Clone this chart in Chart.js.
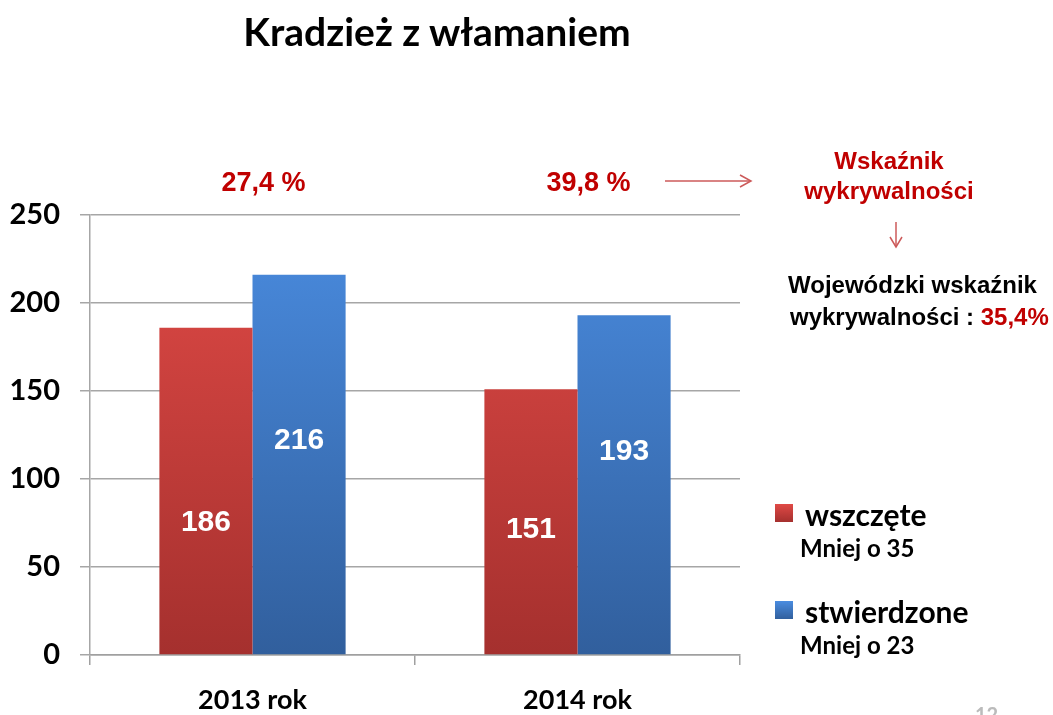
<!DOCTYPE html>
<html>
<head>
<meta charset="utf-8">
<script src="https://cdn.jsdelivr.net/npm/chart.js@4/dist/chart.umd.min.js"></script>
<style>
  html, body { margin: 0; padding: 0; background: #fff; overflow: hidden; }
  #wrap { position: relative; width: 1053px; height: 715px; }
  #wrap canvas { position: absolute; left: 0; top: 0; }
  .t { position: absolute; white-space: nowrap; line-height: 1; }
  .cal { font-family: Lato, "Open Sans", sans-serif; font-weight: bold; color: #000; }
  .ari { font-family: "Liberation Sans", Arial, sans-serif; font-weight: bold; }
  .red { color: #c00000; }
  .sq { position: absolute; width: 18px; height: 18px; }
</style>
</head>
<body>
<div id="wrap">
  <canvas id="chart" width="1053" height="715"></canvas>

  <div class="t cal" style="left:0;width:874px;text-align:center;top:12px;font-size:39px;">Kradzież z włamaniem</div>

  <div class="t ari red" id="p0" style="top:169px;font-size:27px;"></div>
  <div class="t ari red" id="p1" style="top:169px;font-size:27px;"></div>

  <svg style="position:absolute;left:660px;top:172px" width="100" height="18">
    <line x1="5" y1="9" x2="90" y2="9" stroke="#cc5a5a" stroke-width="1.5"/>
    <polyline points="80,3 91,9 80,15" fill="none" stroke="#cc5a5a" stroke-width="1.5"/>
  </svg>

  <div class="t ari red" style="left:789px;width:200px;text-align:center;top:146px;font-size:24px;line-height:30px;">Wskaźnik<br>wykrywalności</div>

  <svg style="position:absolute;left:886px;top:220px" width="20" height="30">
    <line x1="10" y1="2" x2="10" y2="26" stroke="#cc5a5a" stroke-width="1.5"/>
    <polyline points="4,17 10,27 16,17" fill="none" stroke="#cc5a5a" stroke-width="1.5"/>
  </svg>

  <div class="t ari" style="left:788px;top:273px;font-size:24px;color:#000;">Wojewódzki wskaźnik</div>
  <div class="t ari" style="left:790px;top:305px;font-size:24px;color:#000;">wykrywalności :&nbsp;<span class="red" id="woj"></span></div>

  <div class="sq" id="sq0" style="left:775px;top:504px;"></div>
  <div class="t cal" id="lg0" style="left:805px;top:499px;font-size:30px;"></div>
  <div class="t cal" id="ld0" style="left:800px;top:536px;font-size:24px;"></div>
  <div class="sq" id="sq1" style="left:775px;top:601px;"></div>
  <div class="t cal" id="lg1" style="left:805px;top:596px;font-size:30px;"></div>
  <div class="t cal" id="ld1" style="left:800px;top:633px;font-size:24px;"></div>

  <div class="t cal" style="left:975px;top:704px;font-size:20px;color:#bbb;">12</div>
</div>

<script>
// dane
const categories = ['2013 rok', '2014 rok'];
const seriesNames = ['wszczęte', 'stwierdzone'];
const wszczete = [186, 151];
const stwierdzone = [216, 193];
const wskaznik = ['27,4 %', '39,8 %'];
const wojewodzki = '35,4%';
const roznice = ['Mniej o 35', 'Mniej o 23'];
const yTicks = [0, 50, 100, 150, 200, 250];

const colors = [
    { top: '#e04a46', bottom: '#a5302e', flat: '#d2413e' },
    { top: '#4a8ce0', bottom: '#315f9d', flat: '#3f7ccb' }
];

function barFill(i) {
    return function(ctx) {
        const area = ctx.chart.chartArea;
        if (!area) return colors[i].flat;
        const g = ctx.chart.ctx.createLinearGradient(0, area.top, 0, area.bottom);
        g.addColorStop(0, colors[i].top);
        g.addColorStop(1, colors[i].bottom);
        return g;
    };
}

// etykiety w slupkach - wysokosc jako czesc slupka
const labelFrac = [[0.405, 0.47], [0.563, 0.598]];
const barLabels = {
    id: 'barLabels',
    afterDatasetsDraw(chart) {
        const c = chart.ctx;
        const y = chart.scales.y;
        c.save();
        c.font = 'bold 30px "Liberation Sans", Arial, sans-serif';
        c.fillStyle = '#fff';
        c.textAlign = 'center';
        c.textBaseline = 'middle';
        chart.data.datasets.forEach((ds, i) => {
            chart.getDatasetMeta(i).data.forEach((bar, j) => {
                c.fillText(String(ds.data[j]), bar.x, y.getPixelForValue(ds.data[j] * labelFrac[i][j]));
            });
        });
        c.restore();
    }
};

const calFont = { family: 'Lato, "Open Sans", sans-serif', weight: 'bold' };

const chart = new Chart(document.getElementById('chart'), {
    type: 'bar',
    data: {
        labels: categories,
        datasets: [{
            label: seriesNames[0],
            data: wszczete,
            backgroundColor: barFill(0),
            barPercentage: 1,
            categoryPercentage: 0.573
        }, {
            label: seriesNames[1],
            data: stwierdzone,
            backgroundColor: barFill(1),
            barPercentage: 1,
            categoryPercentage: 0.573
        }]
    },
    options: {
        responsive: false,
        animation: false,
        layout: { padding: { top: 215, right: 313, bottom: 0, left: 0 } },
        plugins: {
            legend: { display: false },
            tooltip: { enabled: false }
        },
        scales: {
            x: {
                grid: { offset: true, drawOnChartArea: false, tickLength: 10, color: '#a0a0a0', lineWidth: 1.5 },
                border: { color: '#a0a0a0', width: 1.5 },
                ticks: { color: '#000', font: Object.assign({ size: 27 }, calFont), padding: 19 },
                afterFit(s) { s.height = 60; }
            },
            y: {
                min: 0,
                max: 250,
                afterBuildTicks(s) { s.ticks = yTicks.map(v => ({ value: v })); },
                grid: { color: '#a6a6a6', lineWidth: 1.5, tickLength: 10 },
                border: { color: '#a6a6a6', width: 1.5 },
                ticks: { color: '#000', font: Object.assign({ size: 29 }, calFont), padding: 20 },
                afterFit(s) { s.width = 90; }
            }
        }
    },
    plugins: [barLabels]
});

// teksty obok wykresu
const xs = chart.scales.x;
wskaznik.forEach((t, i) => {
    const el = document.getElementById('p' + i);
    el.textContent = t;
    el.style.left = (xs.getPixelForValue(i) + 11 - el.offsetWidth / 2) + 'px';
});
document.getElementById('woj').textContent = wojewodzki;
seriesNames.forEach((n, i) => {
    document.getElementById('sq' + i).style.background =
        'linear-gradient(' + colors[i].top + ',' + colors[i].bottom + ')';
    document.getElementById('lg' + i).textContent = n;
    document.getElementById('ld' + i).textContent = roznice[i];
});
</script>
</body>
</html>
